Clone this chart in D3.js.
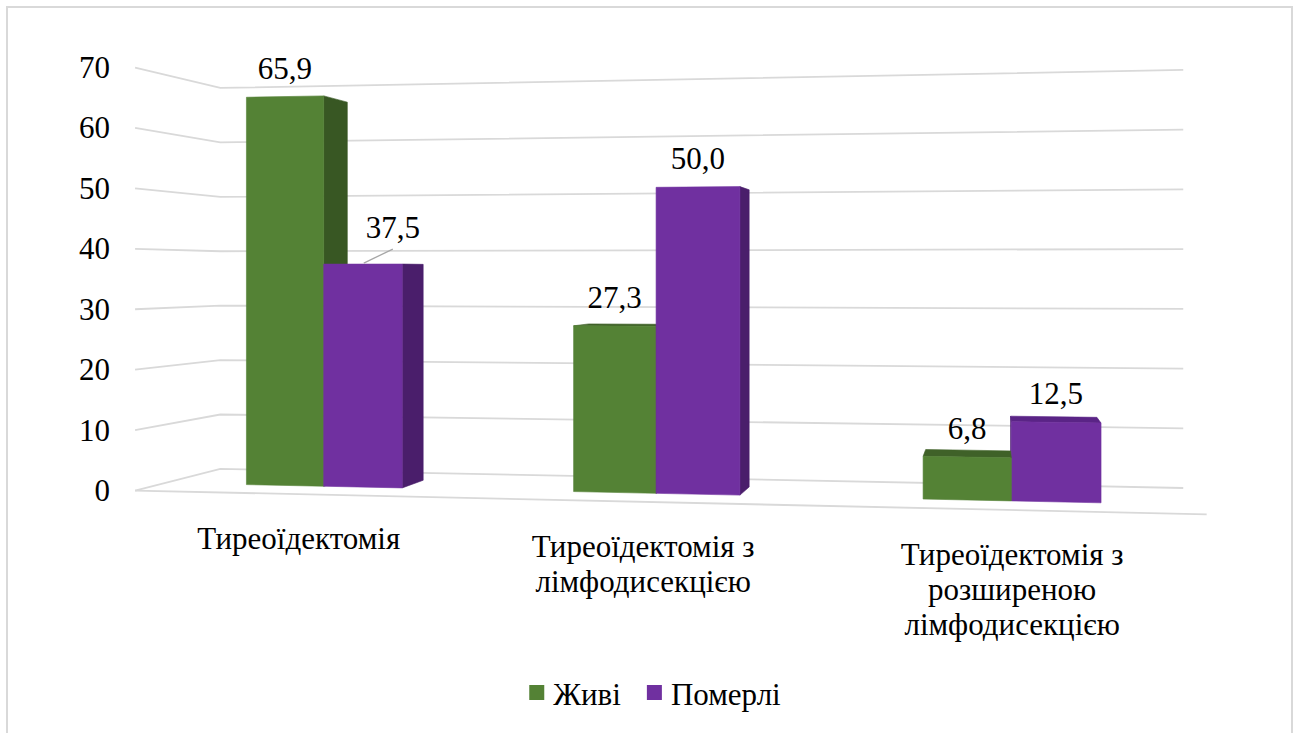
<!DOCTYPE html>
<html>
<head>
<meta charset="utf-8">
<script src="https://cdn.jsdelivr.net/npm/d3@7"></script>
<style>
  html, body { margin: 0; padding: 0; background: #ffffff; }
  svg { display: block; }
</style>
</head>
<body>
<svg id="chart" width="1298" height="733"></svg>
<script>
// ---------------- data ----------------
const categories = [
  "Тиреоїдектомія",
  "Тиреоїдектомія з лімфодисекцією",
  "Тиреоїдектомія з розширеною лімфодисекцією"
];
const seriesNames = ["Живі", "Померлі"];
const alive = [65.9, 27.3, 6.8];
const died = [37.5, 50.0, 12.5];
const yTicks = [0, 10, 20, 30, 40, 50, 60, 70];

// ---------------- styles ----------------
const faceColors = {
  "Живі":    { front: "#548235", side: "#385723", top: "#3f6128" },
  "Померлі": { front: "#7030a0", side: "#4a1e6b", top: "#5a2486" }
};
const gridColor = "#d9d9d9";
const fontSize = 31;
const fontFamily = "'Liberation Serif', Tinos, 'Times New Roman', 'DejaVu Serif', 'Noto Serif', serif";

// ---------------- 3D projection (two-point perspective) ----------------
const CX = 650, CY = 273, F = 1879;
const TH = Math.atan(0.182);
const COS = Math.cos(TH), SIN = Math.sin(TH);
const TX = -85.2, TZ = 310.9, CAMY = 36;
const WORLD_W = 171, WORLD_D = 34.9;
const BAR_Z0 = 11.6, BAR_Z1 = 23.4;

function proj(X, Y, Z) {
  const xc = TX + X * COS + Z * SIN;
  const zc = TZ - X * SIN + Z * COS;
  const yc = Y - CAMY;
  return [CX + F * xc / zc, CY - F * yc / zc];
}
const camX = COS * (-TX) - SIN * (-TZ);
const camZ = SIN * (-TX) + COS * (-TZ);

// ---------------- scales ----------------
const yScale = d3.scaleLinear().domain([0, 70]).range([0, 70]);
const xBand = d3.scaleBand().domain(categories).range([0, WORLD_W]).padding(0);
const groupW = 27.6;
const xInner = d3.scaleBand().domain(seriesNames).range([0, groupW]).padding(0);

const fmt = d3.formatLocale({ decimal: ",", thousands: " ", grouping: [3], currency: ["", ""] }).format(".1f");

const svg = d3.select("#chart").attr("font-family", fontFamily).style("font-family", fontFamily);

svg.append("rect")
  .attr("x", 7).attr("y", 7).attr("width", 1285).attr("height", 800)
  .attr("fill", "#fff").attr("stroke", gridColor).attr("stroke-width", 2);

const line = d3.line();

// ---------------- gridlines ----------------
const gGrid = svg.append("g").attr("fill", "none").attr("stroke", gridColor).attr("stroke-width", 1.8);
yTicks.forEach(v => {
  const y = yScale(v);
  gGrid.append("path").attr("d", line([proj(0, y, 0), proj(0, y, WORLD_D), proj(WORLD_W, y, WORLD_D)]));
});
gGrid.append("path").attr("d", line([proj(0, 0, 0), proj(WORLD_W, 0, 0)]));

// ---------------- y tick labels ----------------
svg.append("g").selectAll("text").data(yTicks).join("text")
  .attr("x", d => proj(0, yScale(d), 0)[0] - 25)
  .attr("y", d => proj(0, yScale(d), 0)[1])
  .attr("text-anchor", "end")
  .attr("dominant-baseline", "central")
  .attr("font-size", fontSize)
  .text(d => d);

// ---------------- bars ----------------
const bars = [];
categories.forEach((c, i) => {
  const base = xBand(c) + (xBand.bandwidth() - groupW) / 2;
  [alive, died].forEach((arr, s) => {
    const name = seriesNames[s];
    const x0 = base + xInner(name), x1 = x0 + xInner.bandwidth();
    const xm = (x0 + x1) / 2, zm = (BAR_Z0 + BAR_Z1) / 2;
    bars.push({ cat: c, ci: i, series: name, value: arr[i], x0, x1,
      dist: Math.hypot(xm - camX, zm - camZ) });
  });
});
bars.sort((a, b) => b.dist - a.dist);

const gBars = svg.append("g");
bars.forEach(b => {
  const v = yScale(b.value), z0 = BAR_Z0, z1 = BAR_Z1, x0 = b.x0, x1 = b.x1;
  const col = faceColors[b.series];
  const faces = [];
  if (camX < x0) faces.push({ pts: [[x0,0,z0],[x0,v,z0],[x0,v,z1],[x0,0,z1]], fill: col.side });
  if (camX > x1) faces.push({ pts: [[x1,0,z0],[x1,v,z0],[x1,v,z1],[x1,0,z1]], fill: col.side });
  if (CAMY > v) faces.push({ pts: [[x0,v,z0],[x1,v,z0],[x1,v,z1],[x0,v,z1]], fill: col.top });
  faces.push({ pts: [[x0,0,z0],[x1,0,z0],[x1,v,z0],[x0,v,z0]], fill: col.front });
  faces.forEach(f => {
    gBars.append("path")
      .attr("d", line(f.pts.map(p => proj(p[0], p[1], p[2]))) + "Z")
      .attr("fill", f.fill)
      .attr("stroke", f.fill).attr("stroke-width", 0.6).attr("stroke-linejoin", "round");
  });
});

// ---------------- data labels ----------------
const labelShift = { "Тиреоїдектомія|Померлі": { dx: 30, dy: -8, leader: true } };
const gLab = svg.append("g");
bars.forEach(b => {
  const v = yScale(b.value);
  const xm = (b.x0 + b.x1) / 2;
  const top = proj(xm, v, BAR_Z0);
  const sh = labelShift[b.cat + "|" + b.series] || { dx: 0, dy: 0 };
  const lx = top[0] + sh.dx, ly = top[1] - 18 + sh.dy;
  if (sh.leader) {
    gLab.append("line")
      .attr("x1", top[0] + 1).attr("y1", top[1] - 1)
      .attr("x2", lx).attr("y2", ly + 11)
      .attr("stroke", "#a6a6a6").attr("stroke-width", 1.3);
  }
  gLab.append("text")
    .attr("x", lx).attr("y", ly)
    .attr("text-anchor", "middle")
    .attr("font-size", fontSize)
    .text(fmt(b.value));
});

// ---------------- category labels ----------------
const gCat = svg.append("g");
const maxW = 300, lineH = 35;
categories.forEach(c => {
  const xm = xBand(c) + xBand.bandwidth() / 2;
  const p = proj(xm, 0, 0);
  const t = gCat.append("text")
    .attr("text-anchor", "middle")
    .attr("font-size", fontSize)
    .attr("dominant-baseline", "central");
  const words = c.split(" ");
  const lines = [];
  let cur = "";
  const probe = gCat.append("text").attr("font-size", fontSize);
  words.forEach(w => {
    const test = cur ? cur + " " + w : w;
    probe.text(test);
    if (cur && probe.node().getComputedTextLength() > maxW) { lines.push(cur); cur = w; }
    else cur = test;
  });
  if (cur) lines.push(cur);
  probe.remove();
  lines.forEach((ln, k) => {
    t.append("tspan").attr("x", p[0]).attr("y", p[1] + 44 + k * lineH).text(ln);
  });
});

// ---------------- legend ----------------
const gLeg = svg.append("g");
const sq = 15, gapSq = 9, gapItem = 26, legBaseline = 705, legCenter = 655;
const items = seriesNames.map(n => {
  const t = gLeg.append("text").attr("font-size", fontSize).attr("y", legBaseline).text(n);
  return { n, t, w: t.node().getComputedTextLength() };
});
const total = d3.sum(items, d => sq + gapSq + d.w) + gapItem * (items.length - 1);
let cx = legCenter - total / 2;
items.forEach(it => {
  gLeg.append("rect").attr("x", cx).attr("y", 685).attr("width", sq).attr("height", sq)
    .attr("fill", faceColors[it.n].front);
  it.t.attr("x", cx + sq + gapSq);
  cx += sq + gapSq + it.w + gapItem;
});
</script>
</body>
</html>
